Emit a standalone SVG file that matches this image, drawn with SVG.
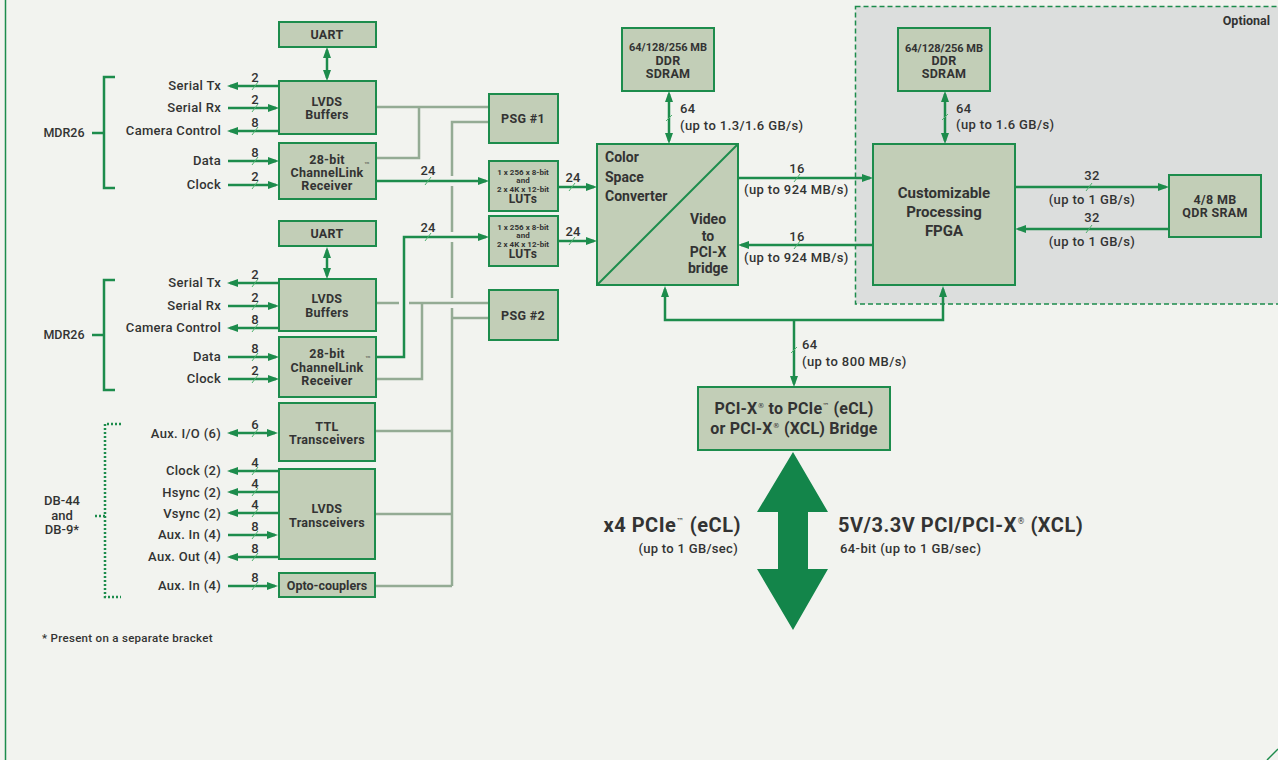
<svg xmlns="http://www.w3.org/2000/svg" width="1278" height="760" viewBox="0 0 1278 760">
<style>
.bg{fill:#f2f3ef}
.node rect{fill:#c2ceb7;stroke:#1d8c4c;stroke-width:2}
text{font-family:Roboto,'Liberation Sans',sans-serif;fill:#333}
.b{font-weight:700}
.nl{font-size:12.5px;font-weight:700;text-anchor:middle;letter-spacing:0.3px}
.sm{font-size:8px;letter-spacing:0}
.sl{font-size:13px;font-weight:500;text-anchor:end;letter-spacing:0.3px}
.num{font-size:13px;font-weight:500;text-anchor:middle}
.rate{font-size:13px;font-weight:500;letter-spacing:0.4px}
.g{stroke:#1d8c4c;stroke-width:2.5;fill:none}
.gr{stroke:#94ab94;stroke-width:2.5;fill:none}
.tk{stroke:#4fb06f;stroke-width:1;fill:none}
.ar{marker-end:url(#ah)}
.da{marker-start:url(#ah);marker-end:url(#ah)}
.sup{font-size:7px;font-family:'DejaVu Sans',sans-serif;font-weight:400;letter-spacing:0}
.tm{font-family:'DejaVu Sans',sans-serif;font-weight:400;font-size:6.5px}
</style>
<defs>
<marker id="ah" viewBox="0 0 11 8" refX="8" refY="4" markerWidth="11" markerHeight="8" markerUnits="userSpaceOnUse" orient="auto-start-reverse"><path d="M0,0L11,4L0,8z" fill="#1d8c4c"/></marker>
</defs>
<rect class="bg" x="0" y="0" width="1278" height="760"/>
<line x1="5.5" y1="0" x2="5.5" y2="760" stroke="#1d8c4c" stroke-width="1.5"/>
<line x1="1267" y1="760" x2="1278" y2="749" stroke="#1d8c4c" stroke-width="1.5"/>

<g id="optional">
<rect x="855.5" y="6.5" width="440" height="297.5" fill="#dcdedd" stroke="#1d8c4c" stroke-width="1.5" stroke-dasharray="5,3"/>
<text x="1270" y="25" class="b" font-size="12.5" text-anchor="end">Optional</text>
</g>

<g id="bracket-mdr26-1">
<path d="M115,77H104V188H115M104,133H92" stroke="#1d8c4c" stroke-width="2.5" fill="none"/>
<text x="64" y="137" font-size="12.5" font-weight="500" text-anchor="middle">MDR26</text>
</g>
<g id="bracket-mdr26-2">
<path d="M115,280H104V390H115M104,335H92" stroke="#1d8c4c" stroke-width="2.5" fill="none"/>
<text x="64" y="339" font-size="12.5" font-weight="500" text-anchor="middle">MDR26</text>
</g>
<g id="bracket-db44">
<path d="M121,424H105V597H121M105,516H94" stroke="#1d8c4c" stroke-width="2.5" fill="none" stroke-dasharray="2,2"/>
<text x="62" y="505" font-size="13" font-weight="500" text-anchor="middle">DB-44</text>
<text x="62" y="520" font-size="13" font-weight="500" text-anchor="middle">and</text>
<text x="62" y="534" font-size="13" font-weight="500" text-anchor="middle">DB-9*</text>
</g>
<text x="42" y="642" font-size="11.5" font-weight="500" letter-spacing="0.3">* Present on a separate bracket</text>

<g id="connectors">
<path class="gr" d="M376,107H489"/>
<path class="gr" d="M376,158H419V107"/>
<path class="gr" d="M489,122H452V176M452,186V232M452,242V298M452,308V586"/>
<path class="gr" d="M452,318H489"/>
<path class="gr" d="M376,303H399M409,303H489"/>
<path class="gr" d="M376,379H422V303"/>
<path class="gr" d="M375,431H452"/>
<path class="gr" d="M375,514H452"/>
<path class="gr" d="M375,586H452"/>
<path class="g da" d="M327,50V78"/>
<path class="g ar" d="M279,86H230"/>
<path class="g ar" d="M228,108H276"/>
<path class="g ar" d="M279,131H230"/>
<path class="g ar" d="M228,161H276"/>
<path class="g ar" d="M228,185H276"/>
<path class="g da" d="M327,250V276"/>
<path class="g ar" d="M279,283H230"/>
<path class="g ar" d="M228,306H276"/>
<path class="g ar" d="M279,328H230"/>
<path class="g ar" d="M228,357H276"/>
<path class="g ar" d="M228,379H276"/>
<path class="g da" d="M230,433H275"/>
<path class="g ar" d="M278,471H230"/>
<path class="g ar" d="M278,492H230"/>
<path class="g ar" d="M278,513H230"/>
<path class="g ar" d="M228,535H275"/>
<path class="g ar" d="M278,557H230"/>
<path class="g ar" d="M228,586H275"/>
<path class="g ar" d="M376,181H486"/>
<path class="g ar" d="M376,357H404V237H486"/>
<path class="g ar" d="M558,187H594"/>
<path class="g ar" d="M558,241H594"/>
<path class="g da" d="M669,94V141"/>
<path class="g ar" d="M738,178H870"/>
<path class="g ar" d="M873,245H741"/>
<path class="g da" d="M665,289V320H943V289"/>
<path class="g ar" d="M794,320V384"/>
<path class="g da" d="M945,94V141"/>
<path class="g ar" d="M1015,187H1166"/>
<path class="g ar" d="M1169,229H1018"/>
<path class="tk" d="M252,90L258,82M252,112L258,104M252,135L258,127M252,165L258,157M252,189L258,181"/>
<path class="tk" d="M252,287L258,279M252,310L258,302M252,332L258,324M252,361L258,353M252,383L258,375"/>
<path class="tk" d="M252,437L258,429M252,475L258,467M252,496L258,488M252,517L258,509M252,539L258,531M252,561L258,553M252,590L258,582"/>
<path class="tk" d="M425,185L431,177M425,241L431,233M569,191L575,183M569,245L575,237"/>
<path class="tk" d="M666,121L672,115M942,120L948,114M791,353L797,347"/>
<path class="tk" d="M794,182L800,174M794,249L800,241M1086,191L1092,183M1086,233L1092,225"/>
</g>

<g id="labels">
<text class="sl" x="221" y="90">Serial Tx</text>
<text class="sl" x="221" y="112">Serial Rx</text>
<text class="sl" x="221" y="135">Camera Control</text>
<text class="sl" x="221" y="165">Data</text>
<text class="sl" x="221" y="189">Clock</text>
<text class="num" x="255" y="82">2</text>
<text class="num" x="255" y="104">2</text>
<text class="num" x="255" y="127">8</text>
<text class="num" x="255" y="157">8</text>
<text class="num" x="255" y="181">2</text>

<text class="sl" x="221" y="287">Serial Tx</text>
<text class="sl" x="221" y="310">Serial Rx</text>
<text class="sl" x="221" y="332">Camera Control</text>
<text class="sl" x="221" y="361">Data</text>
<text class="sl" x="221" y="383">Clock</text>
<text class="num" x="255" y="279">2</text>
<text class="num" x="255" y="302">2</text>
<text class="num" x="255" y="324">8</text>
<text class="num" x="255" y="353">8</text>
<text class="num" x="255" y="375">2</text>

<text class="sl" x="221" y="438">Aux. I/O (6)</text>
<text class="sl" x="221" y="475">Clock (2)</text>
<text class="sl" x="221" y="497">Hsync (2)</text>
<text class="sl" x="221" y="518">Vsync (2)</text>
<text class="sl" x="221" y="539">Aux. In (4)</text>
<text class="sl" x="221" y="561">Aux. Out (4)</text>
<text class="sl" x="221" y="590">Aux. In (4)</text>
<text class="num" x="255" y="429">6</text>
<text class="num" x="255" y="467">4</text>
<text class="num" x="255" y="488">4</text>
<text class="num" x="255" y="509">4</text>
<text class="num" x="255" y="531">8</text>
<text class="num" x="255" y="553">8</text>
<text class="num" x="255" y="582">8</text>

<text class="num" x="428" y="175">24</text>
<text class="num" x="428" y="232">24</text>
<text class="num" x="573" y="182">24</text>
<text class="num" x="573" y="236">24</text>

<text class="rate" x="680" y="113">64</text>
<text class="rate" x="680" y="130">(up to 1.3/1.6 GB/s)</text>
<text class="rate" x="797" y="173" text-anchor="middle">16</text>
<text class="rate" x="744" y="194">(up to 924 MB/s)</text>
<text class="rate" x="797" y="241" text-anchor="middle">16</text>
<text class="rate" x="744" y="262">(up to 924 MB/s)</text>
<text class="rate" x="802" y="349">64</text>
<text class="rate" x="802" y="366">(up to 800 MB/s)</text>
<text class="rate" x="956" y="113">64</text>
<text class="rate" x="956" y="129">(up to 1.6 GB/s)</text>
<text class="rate" x="1092" y="180" text-anchor="middle">32</text>
<text class="rate" x="1092" y="204" text-anchor="middle">(up to 1 GB/s)</text>
<text class="rate" x="1092" y="222" text-anchor="middle">32</text>
<text class="rate" x="1092" y="246" text-anchor="middle">(up to 1 GB/s)</text>
</g>

<g id="uart1" class="node"><rect x="279" y="22" width="97" height="25"/><text class="nl" x="327" y="39">UART</text></g>
<g id="lvds-buffers1" class="node"><rect x="279" y="81" width="97" height="53"/><text class="nl" x="327" y="106">LVDS</text><text class="nl" x="327" y="119">Buffers</text></g>
<g id="channellink1" class="node"><rect x="279" y="143" width="97" height="56"/><text class="nl" x="327" y="164">28-bit</text><text class="nl" x="327" y="177">ChannelLink</text><text class="nl" x="327" y="190">Receiver</text><text x="367" y="167" class="tm" text-anchor="middle">™</text></g>

<g id="uart2" class="node"><rect x="279" y="221" width="97" height="25"/><text class="nl" x="327" y="238">UART</text></g>
<g id="lvds-buffers2" class="node"><rect x="279" y="279" width="97" height="52"/><text class="nl" x="327" y="303">LVDS</text><text class="nl" x="327" y="317">Buffers</text></g>
<g id="channellink2" class="node"><rect x="279" y="337" width="97" height="60"/><text class="nl" x="327" y="358">28-bit</text><text class="nl" x="327" y="372">ChannelLink</text><text class="nl" x="327" y="385">Receiver</text><text x="368" y="361" class="tm" text-anchor="middle">™</text></g>

<g id="ttl" class="node"><rect x="279" y="403" width="96" height="58"/><text class="nl" x="327" y="431">TTL</text><text class="nl" x="327" y="444">Transceivers</text></g>
<g id="lvds-trans" class="node"><rect x="279" y="469" width="96" height="90"/><text class="nl" x="327" y="513">LVDS</text><text class="nl" x="327" y="527">Transceivers</text></g>
<g id="opto" class="node"><rect x="279" y="573" width="96" height="24"/><text class="nl" x="327" y="590" style="letter-spacing:0">Opto-couplers</text></g>

<g id="psg1" class="node"><rect x="489" y="94" width="69" height="49"/><text class="nl" x="523" y="123">PSG #1</text></g>
<g id="lut1" class="node"><rect x="489" y="161" width="69" height="50"/>
<text class="nl sm" x="523" y="175">1 x 256 x 8-bit</text><text class="nl sm" x="523" y="183">and</text><text class="nl sm" x="523" y="192">2 x 4K x 12-bit</text><text class="nl" x="523" y="203" style="font-size:12px">LUTs</text></g>
<g id="lut2" class="node"><rect x="489" y="216" width="69" height="50"/>
<text class="nl sm" x="523" y="230">1 x 256 x 8-bit</text><text class="nl sm" x="523" y="238">and</text><text class="nl sm" x="523" y="247">2 x 4K x 12-bit</text><text class="nl" x="523" y="258" style="font-size:12px">LUTs</text></g>
<g id="psg2" class="node"><rect x="489" y="290" width="69" height="50"/><text class="nl" x="523" y="320">PSG #2</text></g>

<g id="ddr1" class="node"><rect x="622" y="28" width="92" height="63"/><text class="nl" x="668" y="51" style="font-size:11px;letter-spacing:0">64/128/256 MB</text><text class="nl" x="668" y="65">DDR</text><text class="nl" x="668" y="78">SDRAM</text></g>
<g id="csc" class="node"><rect x="597" y="144" width="141" height="141"/>
<line x1="597" y1="285" x2="738" y2="144" stroke="#1d8c4c" stroke-width="2"/>
<text x="605" y="162" class="b" font-size="14">Color</text><text x="605" y="182" class="b" font-size="14">Space</text><text x="605" y="201" class="b" font-size="14">Converter</text>
<text x="708" y="224" class="b" font-size="14" text-anchor="middle">Video</text><text x="708" y="241" class="b" font-size="14" text-anchor="middle">to</text><text x="708" y="257" class="b" font-size="14" text-anchor="middle">PCI-X</text><text x="708" y="273" class="b" font-size="14" text-anchor="middle">bridge</text></g>

<g id="ddr2" class="node"><rect x="898" y="28" width="92" height="63"/><text class="nl" x="944" y="52" style="font-size:11px;letter-spacing:0">64/128/256 MB</text><text class="nl" x="944" y="65">DDR</text><text class="nl" x="944" y="78">SDRAM</text></g>
<g id="fpga" class="node"><rect x="873" y="144" width="142" height="141"/><text x="944" y="198" class="b" font-size="15" text-anchor="middle">Customizable</text><text x="944" y="217" class="b" font-size="15" text-anchor="middle">Processing</text><text x="944" y="236" class="b" font-size="15" text-anchor="middle">FPGA</text></g>
<g id="qdr" class="node"><rect x="1169" y="175" width="92" height="62"/><text class="nl" x="1215" y="204">4/8 MB</text><text class="nl" x="1215" y="217">QDR SRAM</text></g>

<g id="pci-bridge" class="node"><rect x="698" y="387" width="192" height="63"/>
<text x="794" y="414" class="b" font-size="16" letter-spacing="0.2" text-anchor="middle">PCI-X<tspan class="sup" dy="-6">®</tspan><tspan dy="6"> to PCIe</tspan><tspan class="sup" dy="-6">™</tspan><tspan dy="6"> (eCL)</tspan></text>
<text x="794" y="434" class="b" font-size="16" letter-spacing="0.2" text-anchor="middle">or PCI-X<tspan class="sup" dy="-6">®</tspan><tspan dy="6"> (XCL) Bridge</tspan></text></g>

<g id="bus-arrow">
<polygon points="793,452 828,512 808,512 808,569 828,569 793,630 757,569 778,569 778,512 757,512" fill="#13854a"/>
</g>
<g id="bus-labels">
<text x="741" y="532" class="b" font-size="20" letter-spacing="0.5" text-anchor="end">x4 PCIe<tspan class="sup" style="font-size:8px" dy="-8">™</tspan><tspan dy="8"> (eCL)</tspan></text>
<text x="738" y="553" font-size="13" font-weight="500" letter-spacing="0.3" text-anchor="end">(up to 1 GB/sec)</text>
<text x="838" y="532" class="b" font-size="20" letter-spacing="0.5">5V/3.3V PCI/PCI-X<tspan class="sup" style="font-size:8px" dy="-8">®</tspan><tspan dy="8"> (XCL)</tspan></text>
<text x="840" y="553" font-size="13" font-weight="500" letter-spacing="0.4">64-bit (up to 1 GB/sec)</text>
</g>
</svg>
